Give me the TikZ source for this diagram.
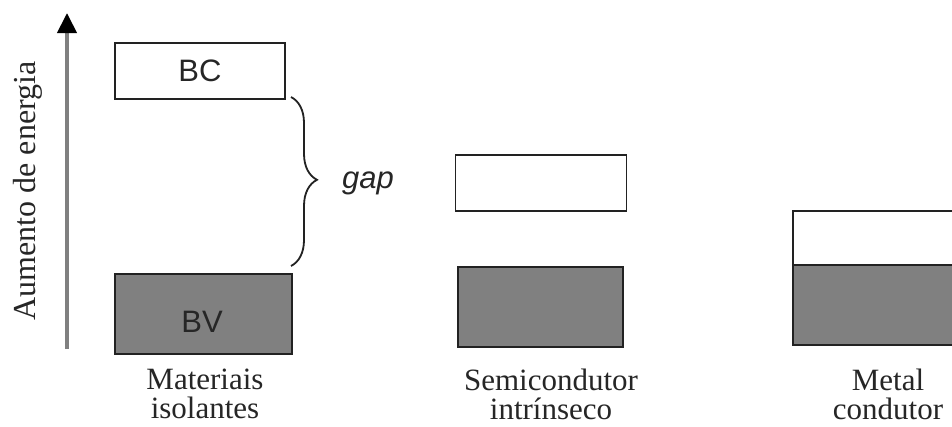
\documentclass[tikz,border=0pt]{standalone}
\usepackage{fontspec}
\setmainfont{Liberation Serif}
\setsansfont{Liberation Sans}
\usetikzlibrary{arrows.meta,decorations.pathreplacing}
\definecolor{bandgray}{HTML}{808080}
\definecolor{edgegray}{HTML}{222222}
\tikzset{
  band/.style={draw=edgegray, line width=1.7pt, inner sep=0pt, outer sep=0pt},
  empty/.style={band, fill=white},
  full/.style={band, fill=bandgray},
  bandtxt/.style={font=\sffamily\fontsize{31}{32}\selectfont, text=black!85},
  caption/.style={font=\fontsize{31}{29}\selectfont, align=center, text=black!85, inner sep=1pt},
}
\begin{document}
\begin{tikzpicture}[x=1pt,y=-1pt]
\useasboundingbox[fill=white] (0,0) rectangle (952,426);
% energy axis
\coordinate (ax0) at (67,349);
\coordinate (ax1) at (67,13);
\draw[line width=4pt, draw=bandgray, -{Triangle[width=19pt,length=20pt,black]}] (ax0) -- (ax1);
\node[rotate=90, font=\fontsize{32}{32}\selectfont, text=black!85] (axl) at (28,191) {Aumento de energia};
% insulator
\node[empty, minimum width=170pt, minimum height=56pt] (bc) at (200,71) {};
\node[bandtxt] at (bc.center) {BC};
\node[full, minimum width=177pt, minimum height=80pt] (bv) at (203.5,314) {};
\node[bandtxt] at (202,322) {BV};
\node[caption] (cap1) at (205,394) {Materiais\\isolantes};
\coordinate (b0) at (291,97);
\coordinate (b1) at (291,266);
\draw[line width=1.8pt, draw=edgegray, decorate, decoration={brace, amplitude=26pt, aspect=0.49}] (b0) -- (b1);
\node[font=\sffamily\itshape\fontsize{31}{32}\selectfont, text=black!85] (gap) at (368,183) {gap};
% semiconductor
\node[empty, minimum width=171pt, minimum height=56pt] (sc) at (541,183) {};
\node[full, minimum width=165pt, minimum height=80pt] (sv) at (540.5,307) {};
\node[caption] (cap2) at (551,394) {Semicondutor\\intrínseco};
% metal
\node[empty, minimum width=200pt, minimum height=54pt] (mc) at (893,238) {};
\node[full, minimum width=200pt, minimum height=80pt] (mv) at (893,305) {};
\node[caption] (cap3) at (888,394) {Metal\\condutor};
\end{tikzpicture}
\end{document}
